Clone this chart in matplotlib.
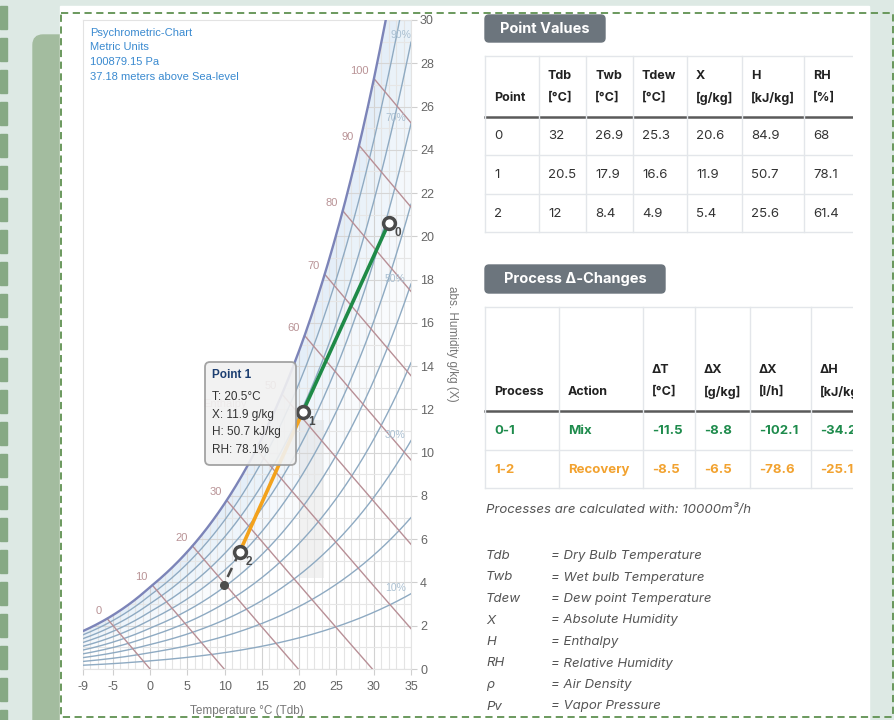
import numpy as np
import matplotlib.pyplot as plt
from matplotlib.patches import Rectangle, FancyBboxPatch, Polygon
from matplotlib.collections import LineCollection

plt.rcParams['axes.unicode_minus'] = False

# ---- data ----
P_ATM = 100879.15
header_lines = ['Psychrometric-Chart', 'Metric Units', '100879.15 Pa', '37.18 meters above Sea-level']

rh_levels = [10, 20, 30, 40, 50, 60, 70, 80, 90]
rh_labels = [10, 30, 50, 70, 90]
h_levels = [0, 10, 20, 30, 40, 50, 60, 70, 80, 90, 100]
h_hidden = [40]  # label sits fully under the tooltip

pt_names = ['0', '1', '2']
pt_T = [32, 20.5, 12]
pt_X = [20.6, 11.9, 5.4]
target_T = 9.9
target_X = 3.9

tip_title = 'Point 1'
tip_lines = ['T: 20.5°C', 'X: 11.9 g/kg', 'H: 50.7 kJ/kg', 'RH: 78.1%']

pv_head1 = ['', 'Tdb', 'Twb', 'Tdew', 'X', 'H', 'RH']
pv_head2 = ['Point', '[°C]', '[°C]', '[°C]', '[g/kg]', '[kJ/kg]', '[%]']
pv_rows = [['0', '32', '26.9', '25.3', '20.6', '84.9', '68'],
           ['1', '20.5', '17.9', '16.6', '11.9', '50.7', '78.1'],
           ['2', '12', '8.4', '4.9', '5.4', '25.6', '61.4']]

pc_head1 = ['', '', 'ΔT', 'ΔX', 'ΔX', 'ΔH']
pc_head2 = ['Process', 'Action', '[°C]', '[g/kg]', '[l/h]', '[kJ/kg]']
pc_rows = [['0-1', 'Mix', '-11.5', '-8.8', '-102.1', '-34.2'],
           ['1-2', 'Recovery', '-8.5', '-6.5', '-78.6', '-25.1']]
pc_colors = ['#1e8b4c', '#f2a22f']

flow_note = 'Processes are calculated with: 10000m³/h'
legend_keys = ['Tdb', 'Twb', 'Tdew', 'X', 'H', 'RH', 'ρ', 'Pv']
legend_vals = ['Dry Bulb Temperature', 'Wet bulb Temperature', 'Dew point Temperature',
               'Absolute Humidity', 'Enthalpy', 'Relative Humidity', 'Air Density', 'Vapor Pressure']


def p_sat(t):
    t = np.asarray(t, float)
    return np.where(t >= 0, 611.2 * np.exp(17.62 * t / (243.12 + t)),
                    611.2 * np.exp(22.46 * t / (272.62 + t)))


def x_of(t, rh):
    pv = rh / 100.0 * p_sat(t)
    return 621.98 * pv / (P_ATM - pv)


def h_of(t, x):
    return 1.006 * t + x / 1000.0 * (2501 + 1.86 * t)


CH = ['Liberation Sans', 'DejaVu Sans']
TB = ['Inter', 'DejaVu Sans']

fig = plt.figure(figsize=(8.95, 7.2), dpi=100)

# page background (pixel coordinates)
bg = fig.add_axes([0, 0, 1, 1], zorder=0)
bg.set_xlim(0, 895)
bg.set_ylim(720, 0)
bg.axis('off')
bg.add_patch(Rectangle((0, 0), 895, 720, color='#dde9e4'))
for y0 in range(6, 720, 32):
    bg.add_patch(Rectangle((0, y0), 7, 23, color='#86a984'))
bg.add_patch(FancyBboxPatch((33, 35), 60, 720, boxstyle='round,pad=0,rounding_size=10', color='#a3bc9f'))
bg.add_patch(Rectangle((60, 6), 809, 714, color='white'))

# ---- psychrometric chart ----
ax = fig.add_axes([83 / 895, 1 - 669 / 720, 328 / 895, 649 / 720], zorder=1)
ax.set_facecolor('none')
ax.set_xlim(-9, 35)
ax.set_ylim(0, 30)

T = np.linspace(-9, 35, 400)
x_sat = x_of(T, 100)

under = Polygon(np.column_stack([np.r_[T, 35, -9], np.r_[np.minimum(x_sat, 31), 0, 0]]),
                closed=True, transform=ax.transData, facecolor='none', edgecolor='none')
ax.add_patch(under)

# blue shading near saturation
pairs = [(100, 90, 0.55), (90, 80, 0.42), (80, 70, 0.32), (70, 60, 0.22), (60, 50, 0.12)]
for hi, lo, a in pairs:
    ax.fill_between(T, x_of(T, lo), x_of(T, hi), color='#cfe0f3', alpha=a, lw=0, zorder=1)

# comfort band
ax.fill_between([20, 23.3], [4.2, 4.2], [11.5, 11.5], color='#b5b5b5', alpha=0.18, lw=0, zorder=1)

# grid only below saturation curve
segs, cols = [], []
for t in range(-9, 36):
    segs.append([(t, 0), (t, 30)])
    cols.append('#d2d2d2' if t % 5 == 0 else '#e4e4e4')
for x in range(0, 31):
    segs.append([(-9, x), (35, x)])
    cols.append('#d6d6d6' if x % 2 == 0 else '#e6e6e6')
grid = LineCollection(segs, colors=cols, linewidths=0.8, zorder=2)
ax.add_collection(grid)
grid.set_clip_path(under)

# relative humidity curves
for rh in rh_levels:
    ax.plot(T, x_of(T, rh), color='#8eaac2', lw=1.0, zorder=3)
ax.plot(T, x_sat, color='#7c84b8', lw=1.7, zorder=4)
for rh in rh_labels:
    if rh == 90:
        lx, ly = 33.6, 29.3
    else:
        lx, ly = 32.9, float(x_of(35, rh)) + 0.25
    ax.text(lx, ly, f'{rh}%', color='#aac0d2', fontsize=7.5, family=CH,
            ha='center', va='center', zorder=5)

# enthalpy lines
Tg = np.linspace(-20, 40, 3000)
hs = h_of(Tg, x_of(Tg, 100))
for h in h_levels:
    ts = np.interp(h, hs, Tg)
    xs = float(x_of(ts, 100))
    xx = np.linspace(0, xs, 50)
    tt = (h - 2.501 * xx) / (1.006 + 0.00186 * xx)
    ax.plot(tt, xx, color='#b88f96', lw=1.0, zorder=3)
    if h in h_hidden:
        continue
    ax.annotate(str(h), (ts, xs), xytext=(-5, 3), textcoords='offset pixels',
                ha='right', va='bottom', color='#b99396', fontsize=8, family=CH,
                zorder=5, annotation_clip=False)
ax.text(10.1, 12.25, 'Enthalpy', color='#c9a9ab', fontsize=8, family=CH, ha='center',
        va='center', zorder=5)

# process lines and points
ax.plot(pt_T[0:2], pt_X[0:2], color='#1e8a47', lw=2.6, zorder=6, solid_capstyle='round')
ax.plot(pt_T[1:3], pt_X[1:3], color='#f3a21c', lw=2.6, zorder=6, solid_capstyle='round')
ax.plot([pt_T[2], target_T], [pt_X[2], target_X], color='#4d4d4d', lw=1.8,
        ls=(0, (4, 3)), zorder=6)
ax.plot(target_T, target_X, 'o', color='#4d4d4d', ms=5.5, zorder=7)
ax.plot(pt_T, pt_X, 'o', ms=8.5, mfc='white', mec='#4a4a4a', mew=2.5, ls='none', zorder=8)
for n, t, x in zip(pt_names, pt_T, pt_X):
    ax.annotate(n, (t, x), xytext=(9, -10), textcoords='offset pixels', ha='center',
                va='center', color='#4a4a4a', fontsize=8.5, fontweight='bold', family=CH, zorder=8)

ax.yaxis.tick_right()
ax.set_yticks(range(0, 31, 2))
ax.set_xticks([-9, -5, 0, 5, 10, 15, 20, 25, 30, 35])
ax.tick_params(axis='y', length=4.5, width=0.8, color='#cfcfcf', labelcolor='#666666',
               labelsize=9, pad=2)
ax.tick_params(axis='x', length=4, width=0.8, color='#cfcfcf', labelcolor='#666666',
               labelsize=9, pad=5)
for lab in ax.get_xticklabels() + ax.get_yticklabels():
    lab.set_family(CH)
for sp in ax.spines.values():
    sp.set_color('#e3e3e3')
    sp.set_linewidth(0.8)

# ---- overlay (pixel coordinates) ----
ov = fig.add_axes([0, 0, 1, 1], zorder=3)
ov.set_xlim(0, 895)
ov.set_ylim(720, 0)
ov.axis('off')
ov.set_facecolor('none')

for i, s in enumerate(header_lines):
    ov.text(90, 33 + i * 14.5, s, color='#3a8ad0', fontsize=8, family=CH, va='center')
ov.text(247, 711, 'Temperature °C (Tdb)', color='#777777', fontsize=8.5, family=CH,
        ha='center', va='center')
ov.text(452, 344, 'abs. Humidity g/kg (X)', color='#777777', fontsize=8.5, family=CH,
        ha='center', va='center', rotation=270)

# tooltip
ov.add_patch(FancyBboxPatch((205, 362), 91, 103, boxstyle='round,pad=0,rounding_size=5',
                            fc='#f1f1f1', ec='#9a9a9a', lw=1.3, alpha=0.9))
ov.text(212, 375, tip_title, color='#1d3f72', fontsize=8.5, fontweight='bold', family=CH, va='center')
for i, s in enumerate(tip_lines):
    ov.text(212, 397 + i * 17.6, s, color='#333333', fontsize=8.5, family=CH, va='center')

ov.add_patch(Rectangle((61, 13), 832, 704, fill=False, ec='#5f9150', lw=1.3, ls=(0, (4, 2.5))))

# ---- right panel tables ----
tb = fig.add_axes([470 / 895, 0, (853 - 470) / 895, 1], zorder=3)
tb.set_xlim(470, 853)
tb.set_ylim(720, 0)
tb.axis('off')
tb.set_facecolor('none')


def badge(x0, y0, w, h, s):
    tb.add_patch(FancyBboxPatch((x0, y0), w, h, boxstyle='round,pad=0,rounding_size=4',
                                color='#6c757d', clip_on=False))
    tb.text(x0 + w / 2, y0 + h / 2 + 0.5, s, color='white', fontsize=10.5, fontweight='bold',
            family=TB, ha='center', va='center')


def table(edges, top, head_bot, row_lines, y1, y2, h1, h2, rows, ys, colors):
    right = 900
    tb.plot([edges[0], right], [top, top], color='#e3e6ea', lw=1)
    tb.plot([edges[0], right], [head_bot, head_bot], color='#5a5a5a', lw=1.8)
    for yl in row_lines:
        tb.plot([edges[0], right], [yl, yl], color='#e3e6ea', lw=1)
    for xe in edges:
        tb.plot([xe, xe], [top, row_lines[-1]], color='#e3e6ea', lw=1)
    for j, xe in enumerate(edges):
        if h1[j]:
            tb.text(xe + 9, y1, h1[j], color='#222222', fontsize=9, fontweight='bold',
                    family=TB, va='center', clip_on=True)
        tb.text(xe + 9, y2, h2[j], color='#222222', fontsize=9, fontweight='bold',
                family=TB, va='center', clip_on=True)
    for r, row in enumerate(rows):
        for j, s in enumerate(row):
            tb.text(edges[j] + 9, ys[r], s, color=colors[r], fontsize=9.5,
                    fontweight='bold' if colors[r] != '#333333' else 'normal',
                    family=TB, va='center', clip_on=True)


badge(485, 15, 120, 27, 'Point Values')
table([485, 539, 586, 633, 687, 742, 804], 56, 117, [155, 194, 232], 76, 98,
      pv_head1, pv_head2, pv_rows, [136, 175, 214], ['#333333'] * 3)

badge(485, 265, 180, 28, 'Process Δ-Changes')
table([485, 559, 643, 695, 750, 811], 307, 411, [450, 488], 370, 392,
      pc_head1, pc_head2, pc_rows, [431, 470], pc_colors)

tb.text(486, 510, flow_note, color='#555555', fontsize=9.5, style='italic', family=TB, va='center')
for i, (k, v) in enumerate(zip(legend_keys, legend_vals)):
    yy = 556 + i * 21.5
    tb.text(486, yy, k, color='#555555', fontsize=9.5, style='italic', family=TB, va='center')
    tb.text(551, yy, '= ' + v, color='#555555', fontsize=9.5, style='italic', family=TB, va='center')

fig.savefig('out.png', dpi=100)
